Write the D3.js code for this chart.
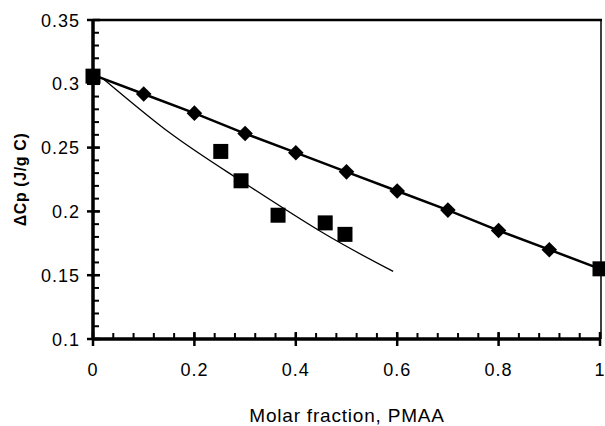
<!DOCTYPE html>
<html>
<head>
<meta charset="utf-8">
<script src="https://cdnjs.cloudflare.com/ajax/libs/d3/7.8.5/d3.min.js"></script>
<style>
  body { margin: 0; background: #fff; }
  text { font-family: "Liberation Sans", Arial, sans-serif; fill: #000; }
</style>
</head>
<body>
<div id="chart"></div>
<script>
// additive line (diamonds in between, squares at the ends)
var lineX = [0, 0.1, 0.2, 0.3, 0.4, 0.5, 0.6, 0.7, 0.8, 0.9, 1];
var lineY = [0.307, 0.292, 0.277, 0.261, 0.246, 0.231, 0.216, 0.201, 0.185, 0.170, 0.155];
// measured blends (squares)
var squareX = [0, 0.252, 0.292, 0.365, 0.458, 0.497, 1];
var squareY = [0.306, 0.247, 0.224, 0.197, 0.191, 0.182, 0.155];
// thin fitted curve
var fitX = [0.02, 0.15, 0.28, 0.45, 0.592];
var fitY = [0.304, 0.262, 0.227, 0.184, 0.153];

var xTicks = [0, 0.2, 0.4, 0.6, 0.8, 1];
var xTickLabels = ["0", "0.2", "0.4", "0.6", "0.8", "1"];
var yTicks = [0.1, 0.15, 0.2, 0.25, 0.3, 0.35];
var yTickLabels = ["0.1", "0.15", "0.2", "0.25", "0.3", "0.35"];

var W = 605, H = 426;
var svg = d3.select("#chart").append("svg").attr("width", W).attr("height", H);

var x = d3.scaleLinear().domain([0, 1]).range([93, 600]);
var y = d3.scaleLinear().domain([0.1, 0.35]).range([339, 20]);

// frame (top and right)
svg.append("line").attr("x1", x(0)).attr("x2", x(1) + 2).attr("y1", y(0.35)).attr("y2", y(0.35))
	.attr("stroke", "#000").attr("stroke-width", 2.5);
svg.append("line").attr("x1", x(1) + 1).attr("x2", x(1) + 1).attr("y1", y(0.35)).attr("y2", y(0.1))
	.attr("stroke", "#000").attr("stroke-width", 1.5);

// minor ticks
var xMinor = d3.range(0, 1.0001, 0.04);
svg.selectAll(".xminor").data(xMinor).enter().append("line")
	.attr("x1", function(d){ return x(d); }).attr("x2", function(d){ return x(d); })
	.attr("y1", y(0.1)).attr("y2", y(0.1) - 6)
	.attr("stroke", "#000").attr("stroke-width", 2);
var yMinor = d3.range(0.1, 0.3501, 0.01);
svg.selectAll(".yminor").data(yMinor).enter().append("line")
	.attr("x1", x(0)).attr("x2", x(0) + 6)
	.attr("y1", function(d){ return y(d); }).attr("y2", function(d){ return y(d); })
	.attr("stroke", "#000").attr("stroke-width", 2);

// major ticks
svg.selectAll(".xmajor").data(xTicks).enter().append("line")
	.attr("x1", function(d){ return x(d); }).attr("x2", function(d){ return x(d); })
	.attr("y1", y(0.1) - 7).attr("y2", y(0.1) + 7)
	.attr("stroke", "#000").attr("stroke-width", 2.5);
svg.selectAll(".ymajor").data(yTicks).enter().append("line")
	.attr("x1", x(0) - 6).attr("x2", x(0) + 7)
	.attr("y1", function(d){ return y(d); }).attr("y2", function(d){ return y(d); })
	.attr("stroke", "#000").attr("stroke-width", 2.5);

// axes lines
svg.append("line").attr("x1", x(0)).attr("x2", x(1)).attr("y1", y(0.1)).attr("y2", y(0.1))
	.attr("stroke", "#000").attr("stroke-width", 3.5);
svg.append("line").attr("x1", x(0)).attr("x2", x(0)).attr("y1", y(0.35)).attr("y2", y(0.1))
	.attr("stroke", "#000").attr("stroke-width", 3.5);

// tick labels
svg.selectAll(".xlab").data(xTicks).enter().append("text")
	.attr("x", function(d){ return x(d); }).attr("y", 376)
	.attr("text-anchor", "middle").style("font-size", "18px").style("letter-spacing", "1px")
	.text(function(d, i){ return xTickLabels[i]; });
svg.selectAll(".ylab").data(yTicks).enter().append("text")
	.attr("x", 80).attr("y", function(d){ return y(d) + 6.5; })
	.attr("text-anchor", "end").style("font-size", "18px").style("letter-spacing", "1px")
	.text(function(d, i){ return yTickLabels[i]; });

// axis titles
svg.append("text").attr("x", 347).attr("y", 422).attr("text-anchor", "middle")
	.style("font-size", "19px").style("letter-spacing", "0.8px")
	.text("Molar fraction, PMAA");
svg.append("text").attr("transform", "translate(26," + ((y(0.35) + y(0.1)) / 2) + ") rotate(-90)")
	.attr("text-anchor", "middle").style("font-size", "16px").style("font-weight", "bold")
	.style("letter-spacing", "0.6px")
	.text("\u0394Cp (J/g C)");

// thin curve
var fitLine = d3.line().x(function(d){ return x(d[0]); }).y(function(d){ return y(d[1]); })
	.curve(d3.curveNatural);
svg.append("path").datum(d3.zip(fitX, fitY)).attr("d", fitLine)
	.attr("fill", "none").attr("stroke", "#000").attr("stroke-width", 1.3);

// thick line
var straight = d3.line().x(function(d){ return x(d[0]); }).y(function(d){ return y(d[1]); });
svg.append("path").datum(d3.zip(lineX, lineY)).attr("d", straight)
	.attr("fill", "none").attr("stroke", "#000").attr("stroke-width", 2.5);

// diamonds (interior points of the line)
var diamonds = d3.zip(lineX, lineY).slice(1, lineX.length - 1);
svg.selectAll(".diamond").data(diamonds).enter().append("path")
	.attr("d", d3.symbol().type(d3.symbolDiamond2).size(155))
	.attr("transform", function(d){ return "translate(" + x(d[0]) + "," + y(d[1]) + ")"; })
	.attr("fill", "#000");

// squares
svg.selectAll(".square").data(d3.zip(squareX, squareY)).enter().append("rect")
	.attr("x", function(d){ return x(d[0]) - 7.5; })
	.attr("y", function(d){ return y(d[1]) - 7.5; })
	.attr("width", 15).attr("height", 15)
	.attr("fill", "#000");
</script>
</body>
</html>
